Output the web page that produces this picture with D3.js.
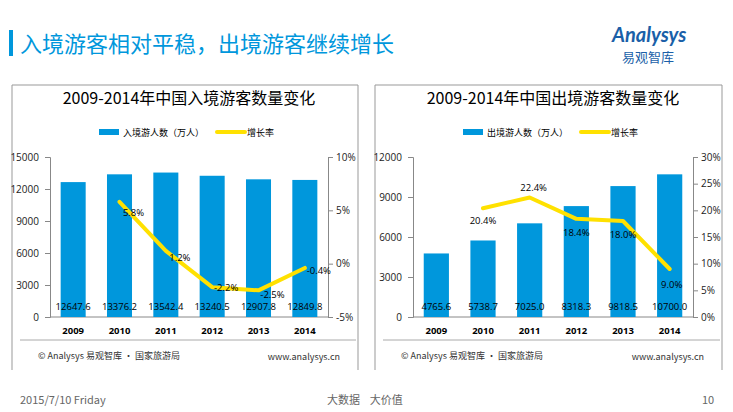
<!DOCTYPE html>
<html><head><meta charset="utf-8">
<script src="https://cdn.jsdelivr.net/npm/d3@7"></script>
<style>body{margin:0;background:#fff;font-family:"Noto Sans CJK SC","Open Sans",sans-serif}</style>
</head><body><svg id="c" width="733" height="412"></svg>
<script>
var years = ["2009", "2010", "2011", "2012", "2013", "2014"];
var inbound = [12647.6, 13376.2, 13542.4, 13240.5, 12907.8, 12849.8];
var inboundRate = [null, 5.8, 1.2, -2.2, -2.5, -0.4];
var outbound = [4765.6, 5738.7, 7025.0, 8318.3, 9818.5, 10700.0];
var outboundRate = [null, 20.4, 22.4, 18.4, 18.0, 9.0];
var leftTicks = [0, 3000, 6000, 9000, 12000, 15000];
var leftRateTicks = [-5, 0, 5, 10];
var rightTicks = [0, 3000, 6000, 9000, 12000];
var rightRateTicks = [0, 5, 10, 15, 20, 25, 30];

var svg = d3.select("#c");
var blue = "#0097DC", yellow = "#FFE100";

// header
svg.append("rect").attr("x", 9).attr("y", 30).attr("width", 4).attr("height", 26).attr("fill", "#0097DC");
svg.append("text").attr("x", 20).attr("y", 52).attr("font-size", 22).attr("fill", "#0097DC")
    .text("入境游客相对平稳，出境游客继续增长");
svg.append("text").attr("x", 612).attr("y", 42).attr("font-size", 20).attr("font-style", "italic")
    .attr("font-weight", "bold").attr("fill", "#1a5fa8").attr("font-family", "Lato,sans-serif").text("Analysys");
svg.append("text").attr("x", 622).attr("y", 62).attr("font-size", 13).attr("fill", "#1a5fa8").text("易观智库");
// footer
svg.append("text").attr("x", 20).attr("y", 404).attr("font-size", 11).attr("fill", "#666").text("2015/7/10 Friday");
svg.append("text").attr("x", 327).attr("y", 404).attr("font-size", 11).attr("fill", "#666").attr("xml:space", "preserve").text("大数据    大价值");
svg.append("text").attr("x", 702).attr("y", 404).attr("font-size", 11).attr("fill", "#666").text("10");

function panel(o) {
    var g = svg.append("g");
    g.append("path").attr("d", `M${o.fx0},370V85H${o.fx1}V370`).attr("fill", "none").attr("stroke", "#999");
    g.append("line").attr("x1", o.fx0 + 8).attr("x2", o.fx1 - 2).attr("y1", 340).attr("y2", 340).attr("stroke", "#aaa");
    var cx = (o.x0 + o.x1) / 2;
    g.append("text").attr("x", cx).attr("y", 104).attr("text-anchor", "middle").attr("font-size", 16)
        .text(o.title);
    // legend
    g.append("rect").attr("x", cx - 90).attr("y", 129).attr("width", 20).attr("height", 6).attr("fill", blue);
    g.append("text").attr("x", cx - 66).attr("y", 136).attr("font-size", 9).text(o.legend);
    g.append("line").attr("x1", cx + 28).attr("x2", cx + 56).attr("y1", 132).attr("y2", 132)
        .attr("stroke", yellow).attr("stroke-width", 4).attr("stroke-linecap", "round");
    g.append("text").attr("x", cx + 58).attr("y", 136).attr("font-size", 9).text("增长率");

    var x = d3.scaleBand().domain(years).range([o.x0, o.x1]).paddingInner(0.46).paddingOuter(0.23);
    var y = d3.scaleLinear().domain(d3.extent(o.ticks)).range([317, 157]);
    var yr = d3.scaleLinear().domain(d3.extent(o.rateTicks)).range([317, 157]);

    var ax = g.append("g").attr("transform", `translate(${o.x0},0)`)
        .call(d3.axisLeft(y).tickValues(o.ticks).tickSize(5).tickFormat(d3.format("d")));
    var ar = g.append("g").attr("transform", `translate(${o.x1},0)`)
        .call(d3.axisRight(yr).tickValues(o.rateTicks).tickSize(5).tickFormat(d => d + "%"));
    [ax, ar].forEach(a => {
        a.selectAll("path,line").attr("stroke", "#888");
        a.selectAll("text").attr("font-size", 10).attr("fill", "#222").attr("font-family", "Open Sans,sans-serif");
    });
    ax.selectAll(".tick text").attr("x", -11);
    g.append("line").attr("x1", o.x0).attr("x2", o.x1).attr("y1", 317).attr("y2", 317).attr("stroke", "#888");

    g.selectAll("rect.bar").data(o.values).join("rect").attr("class", "bar")
        .attr("x", (d, i) => x(years[i])).attr("width", x.bandwidth())
        .attr("y", d => y(d)).attr("height", d => 317 - y(d)).attr("fill", blue);
    g.selectAll("text.val").data(o.values).join("text").attr("class", "val")
        .attr("x", (d, i) => x(years[i]) + x.bandwidth() / 2).attr("y", 310)
        .attr("text-anchor", "middle").attr("font-size", 9.5).attr("font-family", "Open Sans,sans-serif")
        .text(d => d.toFixed(1));
    g.selectAll("text.yr").data(years).join("text").attr("class", "yr")
        .attr("x", d => x(d) + x.bandwidth() / 2).attr("y", 334).attr("text-anchor", "middle")
        .attr("font-size", 9.5).attr("font-weight", "bold").attr("font-family", "Open Sans,sans-serif").text(d => d);

    var pts = o.rates.map((r, i) => [x(years[i]) + x.bandwidth() / 2, r == null ? null : yr(r), r]).filter(p => p[2] != null);
    g.append("path").attr("d", d3.line()(pts.map(p => [p[0], p[1]]))).attr("fill", "none")
        .attr("stroke", yellow).attr("stroke-width", 4).attr("stroke-linejoin", "round").attr("stroke-linecap", "round");
    g.selectAll("text.rt").data(pts).join("text").attr("class", "rt")
        .attr("x", (p, i) => p[0] + o.lx[i]).attr("y", (p, i) => p[1] + o.ly[i])
        .attr("text-anchor", "middle").attr("font-size", 9.5).attr("font-family", "Open Sans,sans-serif")
        .text(p => p[2].toFixed(1) + "%");

    g.append("text").attr("x", o.fx0 + 26).attr("y", 359).attr("font-size", 9).attr("fill", "#333")
        .text("© Analysys 易观智库 · 国家旅游局");
    g.append("text").attr("x", o.fx1 - 18).attr("y", 360).attr("text-anchor", "end").attr("font-size", 9).attr("fill", "#333")
        .text("www.analysys.cn");
}

panel({fx0: 12, fx1: 358, x0: 50, x1: 328, title: "2009-2014年中国入境游客数量变化", legend: "入境游人数（万人）",
    values: inbound, rates: inboundRate, ticks: leftTicks, rateTicks: leftRateTicks,
    lx: [14, 14, 14, 14, 14], ly: [14, 10, 4, 8, 6]});
panel({fx0: 375, fx1: 722, x0: 413, x1: 693, title: "2009-2014年中国出境游客数量变化", legend: "出境游人数（万人）",
    values: outbound, rates: outboundRate, ticks: rightTicks, rateTicks: rightRateTicks,
    lx: [0, 4, 0, 0, 2], ly: [16, -7, 17, 17, 19]});
</script></body></html>
